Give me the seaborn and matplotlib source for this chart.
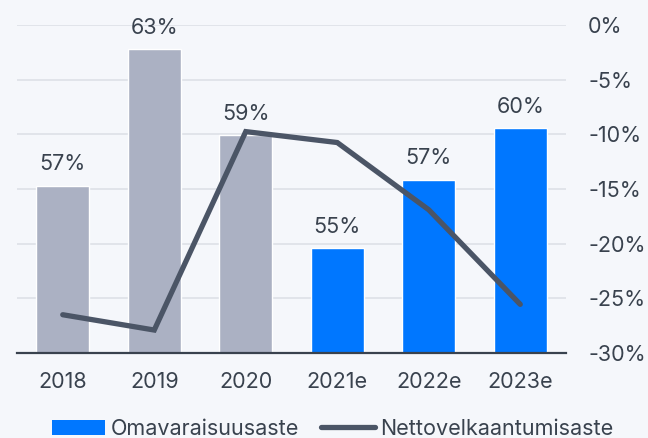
import numpy as np
import pandas as pd
import matplotlib
matplotlib.use("Agg")
import matplotlib.pyplot as plt
import seaborn as sns
from matplotlib.patches import Patch
from matplotlib.lines import Line2D

years = ["2018", "2019", "2020", "2021e", "2022e", "2023e"]
equity_ratio = [57.2, 62.9, 59.3, 54.6, 57.45, 59.6]         # Omavaraisuusaste (%)
net_gearing = [-26.5, -27.9, -9.75, -10.75, -16.9, -25.55]   # Nettovelkaantumisaste (%)
is_estimate = [False, False, False, True, True, True]
right_ticks = [0, -5, -10, -15, -20, -25, -30]

BG = "#f5f7fb"
GRAY = "#abb1c3"
BLUE = "#0077ff"
LINE = "#4b5566"
TEXT = "#39424e"
GRID = "#dcdfe6"
FS = 15.5

sns.set_theme(style="white")
plt.rcParams["font.family"] = ["Inter", "DejaVu Sans"]

fig = plt.figure(figsize=(6.48, 4.38), dpi=100, facecolor=BG)
rect = [17 / 648, 1 - 353 / 438, (566 - 17) / 648, (353 - 25) / 438]
ax = fig.add_axes(rect)
ax.set_facecolor(BG)

df = pd.DataFrame({"year": years, "equity": equity_ratio})
palette = [BLUE if e else GRAY for e in is_estimate]
sns.barplot(data=df, x="year", y="equity", hue="year", palette=palette,
            width=0.58, ax=ax, legend=False, saturation=1)

lo, hi = 50.22, 63.89
ax.set_ylim(lo, hi)
ax.set_xlim(-0.5, len(years) - 0.5)
ax.set_xlabel("")
ax.set_ylabel("")
for s in ["top", "left", "right"]:
    ax.spines[s].set_visible(False)
ax.spines["bottom"].set_color(TEXT)
ax.spines["bottom"].set_linewidth(1.6)
ax.set_yticks(np.linspace(lo, hi, len(right_ticks)))
ax.tick_params(axis="y", left=False, right=False, labelleft=False,
               labelright=False, length=0)
ax.tick_params(axis="x", length=0, pad=14, labelsize=FS, labelcolor=TEXT)
ax.set_axisbelow(True)
ax.grid(True, axis="y", color=GRID, linewidth=1.1)

for cont in ax.containers:
    ax.bar_label(cont, fmt="%.0f%%", padding=8, fontsize=FS, color=TEXT)

# overlay axes for the line with the right-hand scale
ax2 = fig.add_axes(rect, sharex=ax)
ax2.patch.set_visible(False)
sns.lineplot(x=np.arange(len(years)), y=net_gearing, ax=ax2, color=LINE,
             linewidth=3.8, solid_capstyle="round", solid_joinstyle="miter")
ax2.set_ylim(-30, 0)
ax2.set_yticks(right_ticks)
ax2.set_yticklabels([f"{t}%" for t in right_ticks])
ax2.yaxis.tick_right()
ax2.tick_params(axis="y", left=False, right=False, labelleft=False,
                labelright=True, pad=16, labelsize=FS, labelcolor=TEXT, length=0)
ax2.tick_params(axis="x", bottom=False, labelbottom=False, length=0)
ax2.grid(False)
for s in ["top", "left", "right", "bottom"]:
    ax2.spines[s].set_visible(False)
ax2.set_ylabel("")
ax2.set_xlabel("")

handles = [Patch(facecolor=BLUE, edgecolor="none"),
           Line2D([0], [0], color=LINE, linewidth=3.8, solid_capstyle="round")]
fig.legend(handles, ["Omavaraisuusaste", "Nettovelkaantumisaste"],
           loc="center", bbox_to_anchor=(0.513, 1 - 429 / 438), ncol=2,
           frameon=False, fontsize=FS, labelcolor=TEXT,
           handlelength=2.5, handletextpad=0.25, columnspacing=1.0)

fig.savefig("out.png", dpi=100, facecolor=BG)
